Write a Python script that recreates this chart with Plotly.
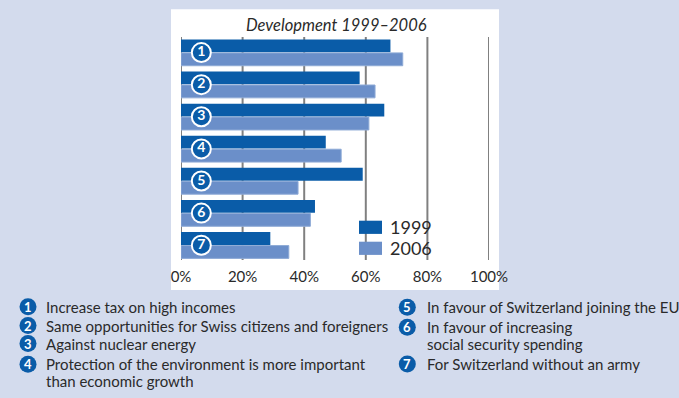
import plotly.graph_objects as go

# ---- data ----
items = ["1", "2", "3", "4", "5", "6", "7"]
values_1999 = [68, 58, 66, 47, 59, 43.5, 29]
values_2006 = [72, 63, 61, 52, 38, 42, 35]
series_names = ["1999", "2006"]
x_ticks = [0, 20, 40, 60, 80, 100]
x_tick_labels = ["0%", "20%", "40%", "60%", "80%", "100%"]
title_text = "Development 1999–2006"
descriptions_left = [
    ("1", ["Increase tax on high incomes"]),
    ("2", ["Same opportunities for Swiss citizens and foreigners"]),
    ("3", ["Against nuclear energy"]),
    ("4", ["Protection of the environment is more important", "than economic growth"]),
]
descriptions_right = [
    ("5", ["In favour of Switzerland joining the EU"]),
    ("6", ["In favour of increasing", "social security spending"]),
    ("7", ["For Switzerland without an army"]),
]

# ---- style ----
W, H = 679, 398
BG = "#d3dbed"
C1999 = "#0a5ca8"
C2006 = "#6b8fc9"
TEXT = "#2a2a2a"
GRID = "#808080"
FONT = "Lato"

# plot area in pixels
PL, PR, PT, PB = 181, 489, 37, 260
PW, PH = PR - PL, PB - PT


def px(x):
    return (x - PL) / PW


def py(y):
    return (PB - y) / PH


yy = list(range(1, len(items) + 1))

fig = go.Figure()
fig.add_trace(go.Bar(
    y=yy, x=values_1999, orientation="h", name=series_names[0],
    marker=dict(color=C1999, line=dict(width=0)), width=0.4, offset=-0.41,
    showlegend=False,
))
fig.add_trace(go.Bar(
    y=yy, x=values_2006, orientation="h", name=series_names[1],
    marker=dict(color=C2006, line=dict(width=1, color="#8eaad6")), width=0.4, offset=0.01,
    showlegend=False,
))
# circled numbers on the bars
fig.add_trace(go.Scatter(
    y=yy, x=[6.6] * len(items), mode="markers+text", text=items,
    textposition="middle center",
    textfont=dict(family=FONT, size=14, color="white", weight="bold"),
    marker=dict(size=19, color=C1999, line=dict(color="white", width=2)),
    showlegend=False, hoverinfo="skip", cliponaxis=False,
))

shapes = []
annotations = []

# white panel
shapes.append(dict(type="rect", xref="paper", yref="paper", layer="below",
                   x0=px(171), x1=px(499), y0=py(290), y1=py(9.3),
                   fillcolor="white", line=dict(width=0)))

# vertical grid lines at the tick values (below the bars)
for v in x_ticks:
    shapes.append(dict(type="line", xref="x", yref="paper", layer="below",
                       x0=v, x1=v, y0=0, y1=1, line=dict(color=GRID, width=2)))

# title
annotations.append(dict(xref="paper", yref="paper", x=px(336), y=py(25),
                        text=title_text, showarrow=False, xanchor="center", yanchor="middle",
                        font=dict(family=FONT, size=16.5, color=TEXT, style="italic")))

# legend boxes
for name, col, yc in [(series_names[0], C1999, 227.3), (series_names[1], C2006, 248.3)]:
    shapes.append(dict(type="rect", xref="paper", yref="paper",
                       x0=px(359), x1=px(382), y0=py(yc + 6.6), y1=py(yc - 6.6),
                       fillcolor=col, line=dict(width=0)))
    annotations.append(dict(xref="paper", yref="paper", x=px(388), y=py(yc),
                            text=name, showarrow=False, xanchor="left", yanchor="middle",
                            font=dict(family=FONT, size=18, color=TEXT)))


def add_desc(num, lines, cx, tx, y0, dy=16.5):
    shapes.append(dict(type="circle", xref="paper", yref="paper",
                       xsizemode="pixel", ysizemode="pixel",
                       xanchor=px(cx), yanchor=py(y0),
                       x0=-8.5, x1=8.5, y0=-8.5, y1=8.5,
                       fillcolor=C1999, line=dict(width=0)))
    annotations.append(dict(xref="paper", yref="paper", x=px(cx), y=py(y0),
                            text="<b>%s</b>" % num, showarrow=False,
                            xanchor="center", yanchor="middle",
                            font=dict(family=FONT, size=13, color="white")))
    for i, ln in enumerate(lines):
        annotations.append(dict(xref="paper", yref="paper", x=px(tx), y=py(y0 + i * dy),
                                text=ln, showarrow=False, xanchor="left", yanchor="middle",
                                font=dict(family=FONT, size=15, color=TEXT)))


left_y = [306.7, 325.5, 343.5, 364.3]
for (num, lines), y0 in zip(descriptions_left, left_y):
    add_desc(num, lines, 28, 44, y0)
right_y = [307.3, 327.3, 364.0]
for (num, lines), y0 in zip(descriptions_right, right_y):
    add_desc(num, lines, 407.3, 425, y0)

fig.update_layout(
    width=W, height=H,
    margin=dict(l=PL, r=W - PR, t=PT, b=H - PB, pad=0, autoexpand=False),
    paper_bgcolor=BG, plot_bgcolor="white",
    barmode="overlay",
    showlegend=False,
    shapes=shapes, annotations=annotations,
    xaxis=dict(range=[0, 100], tickmode="array", tickvals=x_ticks, ticktext=x_tick_labels,
               showgrid=False, zeroline=False, showline=False, ticks="", ticklabelstandoff=6,
               tickfont=dict(family=FONT, size=15, color=TEXT), fixedrange=True),
    yaxis=dict(range=[7.46, 0.515], showticklabels=False, showgrid=False,
               zeroline=False, showline=False, ticks="", fixedrange=True),
)

fig.write_html("out.html", config={"displayModeBar": False},
               post_script="document.body.style.margin='0';document.body.style.padding='0';document.body.style.overflow='hidden';")
